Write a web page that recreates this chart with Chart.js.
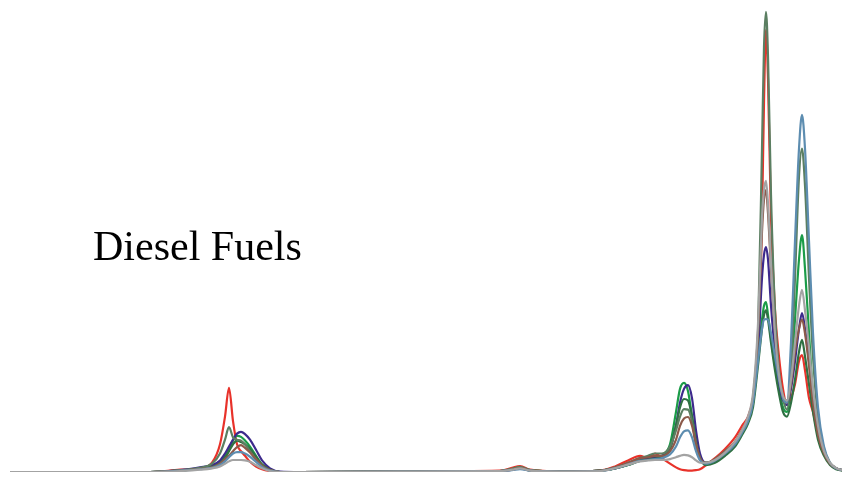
<!DOCTYPE html>
<html>
<head>
<meta charset="utf-8">
<script src="https://cdn.jsdelivr.net/npm/chart.js@4"></script>
<style>
  body{margin:0;background:#fff;}
  #wrap{position:relative;width:842px;height:479px;}
  #label{position:absolute;left:93px;top:225px;font-family:"Liberation Serif","Times New Roman",serif;font-size:42px;line-height:42px;color:#000;}
</style>
</head>
<body>
<div id="wrap">
  <canvas id="chart"></canvas>
  <div id="label">Diesel Fuels</div>
</div>
<script>
// DATA (x = channel, y = relative intensity)

const shift = [10,150,180,200,212,220,225,229,233,237,241,245,250,256,262,270,280,300,
  400,500,512,520,530,560,
  600,615,628,640,648,655,662,670,676,680,684,688,692,696,700,706,715,725,735,742,748,753,758,762,764,
  766,768,771,775,779,783,787,791,795,799,802,805,809,813,818,824,830,836,842];

const gray = [0,0,0.2,0.5,0.8,1.2,1.8,2.3,2.6,2.6,2.6,2.5,2.2,1.5,0.8,0.2,0,0,
  0.1,0.2,0.5,0.8,0.3,0.1,
  0.2,0.8,1.6,2.3,2.5,2.6,2.6,2.8,3.2,3.5,3.7,3.6,3.2,2.5,2,2,2.6,4.2,6.5,9,12,17,32,55,61,
  63,58,45,30,21,16.5,15.5,20,28,36,39.4,35,27,18,10,4.5,2,0.9,0.4];

const steel = [0,0,0.3,0.6,0.9,1.5,2.3,3.2,4,4.3,4.3,4,3.3,2.2,1.1,0.3,0,0,
  0.1,0.2,0.4,0.6,0.3,0.1,
  0.2,0.8,1.6,2.4,2.6,2.8,3,3.8,5.5,7.5,8.8,9,7.5,4.5,2.5,1.8,2.5,4,6,8.5,11,15,24,31,33,
  33.1,33,30,25,20,16,15,28,50,70,77.3,70,50,30,14,5.5,2,0.8,0.4];

const brown = [0,0,0.3,0.7,1,1.8,2.8,3.5,4.5,5.4,5.8,5.2,4.2,2.8,1.4,0.4,0,0,
  0.1,0.2,0.5,0.9,0.4,0.1,
  0.3,1,2,3,3.2,3.5,3.5,4.5,7,10,11.6,11.9,10,6,3,2,2.8,4.5,6.5,9,11.5,16,30,52,59,
  61,56,44,30,21,16.5,15.5,19,26,31,33,30,23,15,8,4,1.8,0.8,0.4];

const olive = [0,0,0.4,0.9,1.8,4,7,9.7,7.5,7,6.8,6,4.5,2.6,1.2,0.4,0,0,
  0.1,0.2,0.7,1.1,0.4,0.1,
  0.3,1,2,3,3.5,4,4,5.5,9,12,13.6,13.5,11,6,3,2,2.8,4.5,6.5,9,11.5,16,30,70,92,
  99.6,90,60,35,22,16,13.5,22,42,64,70,62,42,25,12,5,2,0.8,0.4];

const darkGreen = [0,0,0.3,0.7,1.1,1.8,3,4.5,6,6.8,6.5,6,5,3.3,1.6,0.5,0,0,
  0.1,0.2,0.6,0.9,0.3,0.1,
  0.3,0.8,1.5,2.4,2.7,2.9,3.2,5,10,14,15.8,15.5,12,6.5,3,1.5,2,3.5,5.5,8,10.5,14,23,31,34,
  35,33,28,22,17,13,12,15,20,26,28.6,25,19,13,7,3.5,1.5,0.6,0.3];

const purple = [0,0,0.4,1,1.5,2.5,4,5.5,7,8.3,8.7,8.2,7,4.8,2.5,0.8,0.1,0,
  0.1,0.2,0.5,0.8,0.3,0.1,
  0.3,0.8,1.6,2.6,3,3.2,3.5,5,10,15,18,18.8,16,9,4,2,2.5,4,6,8.5,11,15,26,42,47,
  48.7,46,36,26,19,15.5,14.5,18,24,31,34.4,31,24,16,9,4,1.8,0.8,0.4];

const green = [0,0,0.3,0.8,1.3,2.2,3.5,5,6.8,7.8,7.6,6.8,5.5,3.5,1.6,0.5,0,0,
  0.1,0.2,0.6,1,0.4,0.1,
  0.3,0.8,1.5,2.5,2.8,3,3.5,6,13,18,19.3,17.5,12,6,3,2,2.5,4,6,8.5,11,15,25,33,36,
  36.8,34,29,23,18,14,13,20,33,46,51.3,44,30,17,9,4,1.8,0.8,0.4];

const red = [0,0,0.5,0.8,2,6,12,18.2,11,6,4.5,3.5,2.2,1.2,0.6,0.2,0,0,
  0.1,0.3,0.9,1.3,0.5,0.1,
  0.3,1.2,2.5,3.5,3,4,3,1.8,1,0.6,0.4,0.3,0.3,0.4,0.6,1.5,3,5,7.5,10,12,16,27,55,80,
  95.7,85,55,35,25,18,14.5,16,19,24,25.3,22,16,13,8,4,1.8,0.8,0.4];

// CHART

const series = [
  {name:'gray', values:gray, color:'#a3a3a3'},
  {name:'steel', values:steel, color:'#5d8db0'},
  {name:'brown', values:brown, color:'#8c5a4a'},
  {name:'olive', values:olive, color:'#5b7f62'},
  {name:'darkGreen', values:darkGreen, color:'#2f7042'},
  {name:'purple', values:purple, color:'#3d2a8c'},
  {name:'green', values:green, color:'#1b9c48'},
  {name:'red', values:red, color:'#e8322a'}
];

const ctx = document.getElementById('chart');
new Chart(ctx, {
  type:'line',
  data:{
    datasets:series.map(s => ({
      label:s.name,
      data:shift.map((x,i) => ({x:x, y:s.values[i]})),
      borderColor:s.color,
      borderWidth:2.2,
      pointRadius:0,
      cubicInterpolationMode:'monotone',
      fill:false
    }))
  },
  options:{
    responsive:true,
    maintainAspectRatio:false,
    animation:false,
    layout:{padding:{top:10,bottom:7,left:0,right:0}},
    scales:{
      x:{type:'linear', display:false, min:0, max:842},
      y:{display:false, min:0, max:100}
    },
    plugins:{
      legend:{display:false},
      tooltip:{enabled:false}
    }
  }
});
</script>
</body>
</html>
